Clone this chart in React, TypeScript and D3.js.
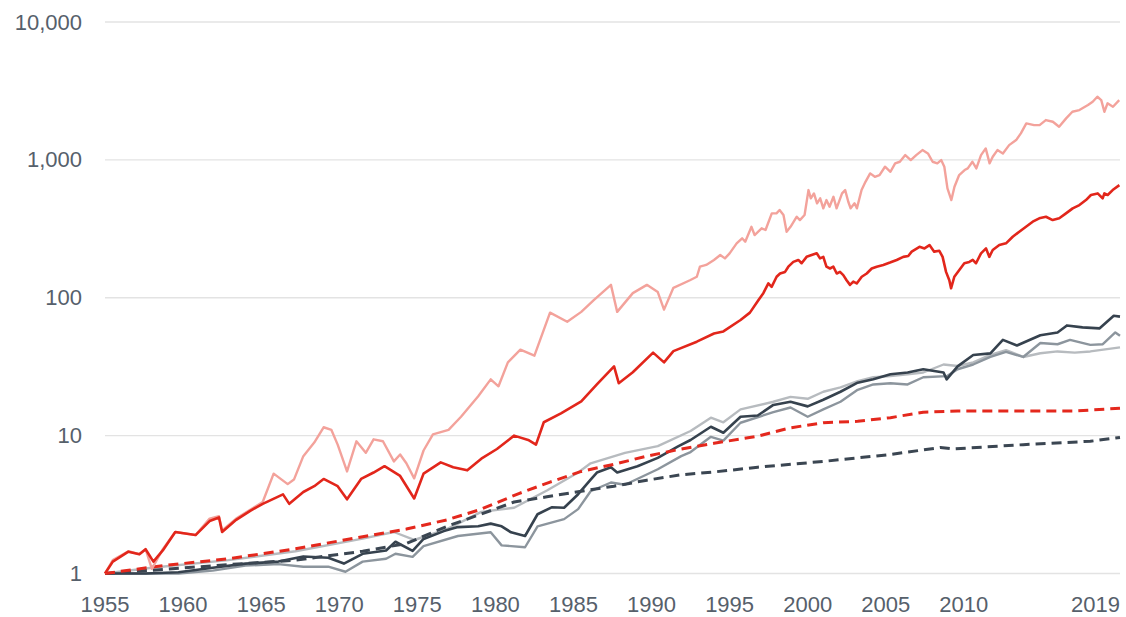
import React from "react";
import * as d3 from "d3";

// ---- data (growth of $1, log scale) ----
const yTicks = [1, 10, 100, 1000, 10000];
const xTickYears = [1955, 1960, 1965, 1970, 1975, 1980, 1985, 1990, 1995, 2000, 2005, 2010, 2019];

// light salmon solid
const pinkSeries: [number, number][] = [
  [1955.0, 1.0], [1955.5, 1.25], [1956.5, 1.45], [1957.2, 1.38], [1957.6, 1.5], [1958.0, 1.08],
  [1958.7, 1.5], [1959.5, 2.0], [1960.8, 1.9], [1961.7, 2.5], [1962.3, 2.6], [1962.5, 2.05],
  [1963.4, 2.5], [1964.3, 2.9], [1965.1, 3.3], [1965.8, 5.3], [1966.7, 4.45], [1967.1, 4.8],
  [1967.7, 7.1], [1968.4, 8.9], [1969.0, 11.5], [1969.5, 11.0], [1969.9, 8.6], [1970.5, 5.5],
  [1971.1, 9.1], [1971.7, 7.5], [1972.2, 9.4], [1972.8, 9.1], [1973.5, 6.5], [1973.9, 7.3],
  [1974.3, 6.3], [1974.8, 4.9], [1975.4, 7.8], [1976.0, 10.2], [1977.0, 11.0], [1977.8, 13.7],
  [1978.9, 19.3], [1979.7, 25.6], [1980.2, 22.8], [1980.8, 34], [1981.6, 42], [1982.5, 38],
  [1983.5, 78], [1984.6, 67], [1985.5, 79], [1986.3, 96], [1987.4, 124], [1987.8, 79],
  [1988.8, 108], [1989.7, 124], [1990.4, 110], [1990.8, 82], [1991.4, 118],
  [1992.46, 134], [1992.9, 142], [1993.1, 168], [1993.5, 173], [1994.0, 188], [1994.4, 204],
  [1994.7, 193], [1995.0, 210], [1995.45, 248], [1995.8, 270], [1996.0, 255], [1996.4, 327],
  [1996.6, 285], [1997.05, 319], [1997.3, 310], [1997.7, 409], [1998.0, 409], [1998.2, 433],
  [1998.45, 398], [1998.65, 301], [1998.9, 327], [1999.3, 387], [1999.5, 366], [1999.8, 398],
  [2000.05, 604], [2000.2, 526], [2000.4, 571], [2000.6, 484], [2000.8, 526], [2001.0, 445],
  [2001.2, 511], [2001.4, 457], [2001.65, 540], [2001.85, 445], [2002.2, 571], [2002.4, 604],
  [2002.6, 497], [2002.75, 445], [2003.0, 484], [2003.15, 445], [2003.45, 604], [2003.7, 693],
  [2004.0, 798], [2004.3, 754], [2004.6, 776], [2004.95, 892], [2005.3, 820], [2005.6, 944],
  [2005.9, 969], [2006.25, 1083], [2006.6, 997], [2006.95, 1083], [2007.35, 1178], [2007.7, 1114],
  [2008.0, 969], [2008.3, 944], [2008.55, 997], [2008.75, 892], [2008.95, 621], [2009.2, 511],
  [2009.4, 638], [2009.7, 776], [2010.05, 844], [2010.25, 867], [2010.55, 969], [2010.8, 867],
  [2011.1, 1083], [2011.4, 1211], [2011.65, 944], [2011.85, 1053], [2012.15, 1178], [2012.5, 1114],
  [2012.9, 1279], [2013.35, 1392], [2013.65, 1556], [2014.0, 1840], [2014.5, 1787], [2014.85, 1787],
  [2015.25, 1944], [2015.7, 1889], [2016.1, 1738], [2016.55, 2000], [2016.95, 2234], [2017.4, 2297],
  [2017.95, 2497], [2018.25, 2638], [2018.55, 2868], [2018.8, 2714], [2019.0, 2234], [2019.2, 2570],
  [2019.55, 2428], [2019.95, 2714],
];

// red solid
const redSeries: [number, number][] = [
  [1955.0, 1.0], [1955.5, 1.22], [1956.5, 1.44], [1957.2, 1.38], [1957.6, 1.5], [1958.1, 1.22],
  [1958.7, 1.47], [1959.5, 2.0], [1960.8, 1.9], [1961.7, 2.4], [1962.3, 2.55], [1962.5, 2.0],
  [1963.4, 2.45], [1964.3, 2.85], [1965.1, 3.2], [1966.4, 3.75], [1966.8, 3.2], [1967.7, 3.9],
  [1968.4, 4.3], [1969.0, 4.85], [1969.9, 4.3], [1970.5, 3.45], [1971.4, 4.85], [1972.2, 5.4],
  [1972.9, 6.0], [1973.9, 5.1], [1974.8, 3.5], [1975.4, 5.3], [1976.5, 6.4], [1977.3, 5.9],
  [1978.2, 5.6], [1979.1, 6.8], [1980.1, 8.0], [1981.2, 10.0], [1982.1, 9.3], [1982.6, 8.6],
  [1983.1, 12.5], [1984.2, 14.5], [1985.5, 17.7], [1986.5, 23.5], [1987.6, 31.8], [1987.9, 24],
  [1988.8, 28.8], [1990.1, 40], [1990.8, 34], [1991.4, 41], [1992.9, 48], [1994.0, 55],
  [1994.6, 57], [1995.7, 69], [1996.3, 78],
  [1996.84, 96], [1997.16, 108], [1997.48, 127], [1997.69, 120], [1998.01, 142], [1998.23, 150],
  [1998.55, 154], [1998.76, 168], [1999.08, 182], [1999.4, 188], [1999.61, 178], [1999.93, 198],
  [2000.25, 204], [2000.58, 210], [2000.79, 193], [2001.0, 198], [2001.2, 168], [2001.43, 163],
  [2001.64, 168], [2001.86, 150], [2002.07, 154], [2002.28, 146], [2002.49, 134], [2002.71, 124],
  [2002.92, 131], [2003.14, 127], [2003.46, 142], [2003.78, 150], [2004.1, 163], [2004.42, 168],
  [2004.84, 173], [2005.27, 180], [2005.7, 188], [2006.12, 198], [2006.44, 201], [2006.66, 216],
  [2007.16, 234], [2007.48, 228], [2007.8, 241], [2008.1, 216], [2008.43, 219], [2008.64, 198],
  [2008.86, 154], [2009.07, 134], [2009.18, 117], [2009.39, 142], [2009.71, 159], [2010.03, 178],
  [2010.35, 182], [2010.57, 188], [2010.78, 178], [2011.1, 210], [2011.42, 228], [2011.63, 198],
  [2011.85, 222], [2012.27, 241], [2012.7, 248], [2013.13, 277], [2013.55, 301], [2013.98, 327],
  [2014.41, 356], [2014.83, 377], [2015.26, 387], [2015.69, 366], [2016.11, 377], [2016.54, 409],
  [2016.97, 445], [2017.4, 470], [2017.82, 511], [2018.14, 556], [2018.57, 571], [2018.89, 526],
  [2019.0, 571], [2019.21, 556], [2019.53, 604], [2019.96, 656],
];

// dark slate solid
const darkSeries: [number, number][] = [
  [1955.0, 1.0], [1957.6, 1.0], [1959.7, 1.02], [1961.9, 1.1], [1964.0, 1.18], [1966.1, 1.22],
  [1967.7, 1.33], [1969.3, 1.3], [1970.3, 1.18], [1971.5, 1.39], [1973.0, 1.47], [1973.6, 1.7],
  [1974.7, 1.46], [1975.4, 1.78], [1976.7, 2.03], [1977.6, 2.17], [1978.9, 2.2], [1979.7, 2.3],
  [1980.4, 2.2], [1981.0, 1.99], [1981.9, 1.87], [1982.7, 2.69], [1983.6, 3.02], [1984.4, 3.0],
  [1985.3, 3.76], [1986.1, 4.8], [1986.5, 5.4], [1987.4, 5.9], [1987.8, 5.4], [1989.1, 6.0],
  [1990.4, 6.9], [1991.7, 8.35], [1992.5, 9.3], [1993.8, 11.6], [1994.6, 10.5], [1995.7, 13.7],
  [1996.8, 14.0], [1997.8, 16.7], [1998.9, 17.6], [2000.0, 16.3], [2001.0, 18.2], [2002.1, 20.8],
  [2003.2, 24.2], [2004.2, 25.6], [2005.3, 27.9], [2006.4, 28.7], [2007.4, 30.3], [2008.7, 28.7],
  [2008.9, 25.6], [2009.6, 31.8], [2010.6, 38.4], [2011.7, 39.5], [2012.5, 49.5], [2013.4, 45],
  [2014.9, 53.5], [2016.0, 56], [2016.6, 63], [2017.6, 61], [2018.7, 60], [2019.6, 74],
  [2020.0, 73],
];

// medium grey solid
const midGreySeries: [number, number][] = [
  [1955.0, 1.0], [1959.7, 1.0], [1961.9, 1.05], [1964.0, 1.14], [1966.1, 1.17], [1967.7, 1.12],
  [1969.3, 1.12], [1970.4, 1.03], [1971.5, 1.22], [1973.0, 1.28], [1973.6, 1.39], [1974.7, 1.32],
  [1975.4, 1.58], [1977.6, 1.87], [1979.7, 1.99], [1980.4, 1.6], [1981.9, 1.55], [1982.7, 2.2],
  [1984.4, 2.48], [1985.3, 2.93], [1986.1, 3.95], [1987.4, 4.57], [1988.3, 4.4], [1990.4, 5.7],
  [1991.9, 7.1], [1992.5, 7.6], [1993.8, 9.8], [1994.6, 9.2], [1995.7, 12.4], [1997.8, 14.8],
  [1998.9, 16], [2000.0, 13.7], [2001.0, 15.5], [2002.1, 17.6], [2003.2, 21.5], [2004.2, 23.5],
  [2005.3, 24], [2006.4, 23.5], [2007.4, 26.5], [2008.9, 27], [2009.6, 30.3], [2010.6, 32.8],
  [2011.7, 37.2], [2012.7, 40.5], [2013.8, 37.2], [2014.9, 47], [2016.0, 46], [2016.8, 49.5],
  [2018.1, 45.5], [2018.9, 46], [2019.7, 56], [2020.0, 53],
];

// light grey solid
const lightGreySeries: [number, number][] = [
  [1955.0, 1.0], [1958.0, 1.1], [1962.9, 1.25], [1967.2, 1.45], [1971.5, 1.79], [1973.5, 2.0],
  [1974.8, 1.75], [1976.9, 2.1], [1979.1, 2.8], [1981.2, 3.0], [1983.3, 4.0], [1985.3, 5.4],
  [1986.1, 6.3], [1988.3, 7.5], [1990.4, 8.4], [1992.5, 10.8], [1993.8, 13.5], [1994.6, 12.5],
  [1995.7, 15.5], [1997.8, 17.6], [1998.9, 19.1], [2000.0, 18.5], [2001.0, 20.8], [2002.1, 22.4],
  [2003.2, 24.8], [2004.2, 26.5], [2005.3, 27], [2006.4, 27.9], [2007.4, 28.7], [2008.7, 32.8],
  [2009.6, 32], [2010.6, 34], [2011.7, 38.5], [2012.7, 41.7], [2013.8, 37.2], [2014.9, 39.6],
  [2016.0, 40.8], [2017.1, 40], [2018.1, 40.8], [2020.0, 43.7],
];

// red dashed
const redDashSeries: [number, number][] = [
  [1955.0, 1.0], [1958.7, 1.14], [1962.9, 1.28], [1967.2, 1.51], [1971.5, 1.85], [1974.3, 2.1],
  [1976.9, 2.45], [1979.0, 2.9], [1981.5, 3.8], [1983.5, 4.6], [1985.5, 5.5], [1987.6, 6.2],
  [1989.7, 7.1], [1991.9, 8.0], [1994.0, 8.8], [1996.8, 9.9], [1998.9, 11.4], [2001.0, 12.4],
  [2003.2, 12.7], [2005.3, 13.5], [2007.4, 14.8], [2009.6, 15.1], [2013.8, 15.1], [2017.1, 15.1],
  [2020.0, 15.8],
];

// dark dashed
const darkDashSeries: [number, number][] = [
  [1955.0, 1.0], [1958.7, 1.07], [1962.9, 1.16], [1967.2, 1.25], [1971.5, 1.45], [1974.3, 1.65],
  [1976.9, 2.2], [1979.1, 2.7], [1981.2, 3.3], [1983.3, 3.6], [1985.5, 3.95], [1987.6, 4.3],
  [1989.7, 4.75], [1991.9, 5.2], [1994.0, 5.45], [1996.8, 5.9], [2001.0, 6.5], [2005.3, 7.3],
  [2008.5, 8.2], [2009.3, 8.0], [2013.8, 8.6], [2018.1, 9.1], [2020.0, 9.7],
];

const seriesList = [
  { name: "lightGrey", data: lightGreySeries, color: "#b7bbbf", width: 2.4, dash: "" },
  { name: "midGrey", data: midGreySeries, color: "#8c959d", width: 2.4, dash: "" },
  { name: "dark", data: darkSeries, color: "#36424e", width: 2.6, dash: "" },
  { name: "darkDash", data: darkDashSeries, color: "#3b4652", width: 3, dash: "10,6" },
  { name: "redDash", data: redDashSeries, color: "#e4281d", width: 3, dash: "10,6" },
  { name: "pink", data: pinkSeries, color: "#f3a29b", width: 2.4, dash: "" },
  { name: "red", data: redSeries, color: "#e2261b", width: 2.6, dash: "" },
];

export default function App() {
  const W = 1126;
  const H = 617;
  const x = d3.scaleLinear().domain([1955, 2020]).range([105, 1120]);
  const y = d3.scaleLog().domain([1, 10000]).range([573.5, 22]);
  const line = d3
    .line<[number, number]>()
    .x((d) => x(d[0]))
    .y((d) => y(d[1]))
    .curve(d3.curveLinear);
  const fmt = d3.format(",");
  const font = "'Liberation Sans', Arial, sans-serif";
  const textColor = "#56606b";
  const [x0, x1] = x.range();

  return (
    <svg
      width={W}
      height={H}
      style={{ position: "absolute", left: 0, top: 0, background: "#fff" }}
    >
      {yTicks.map((t) => (
        <g key={t}>
          <line x1={x0} x2={x1} y1={y(t)} y2={y(t)} stroke="#e3e3e3" strokeWidth={1.3} />
          <text
            x={82}
            y={y(t)}
            textAnchor="end"
            dominantBaseline="central"
            fontFamily={font}
            fontSize={22}
            fill={textColor}
          >
            {fmt(t)}
          </text>
        </g>
      ))}
      {xTickYears.map((t) => {
        const px = x(t);
        const overflow = px + 25 > x1;
        return (
          <text
            key={t}
            x={overflow ? x1 : px}
            y={612}
            textAnchor={overflow ? "end" : "middle"}
            fontFamily={font}
            fontSize={22}
            fill={textColor}
          >
            {String(t)}
          </text>
        );
      })}
      {seriesList.map((s) => (
        <path
          key={s.name}
          d={line(s.data) || ""}
          fill="none"
          stroke={s.color}
          strokeWidth={s.width}
          strokeDasharray={s.dash || undefined}
          strokeLinejoin="round"
        />
      ))}
    </svg>
  );
}
